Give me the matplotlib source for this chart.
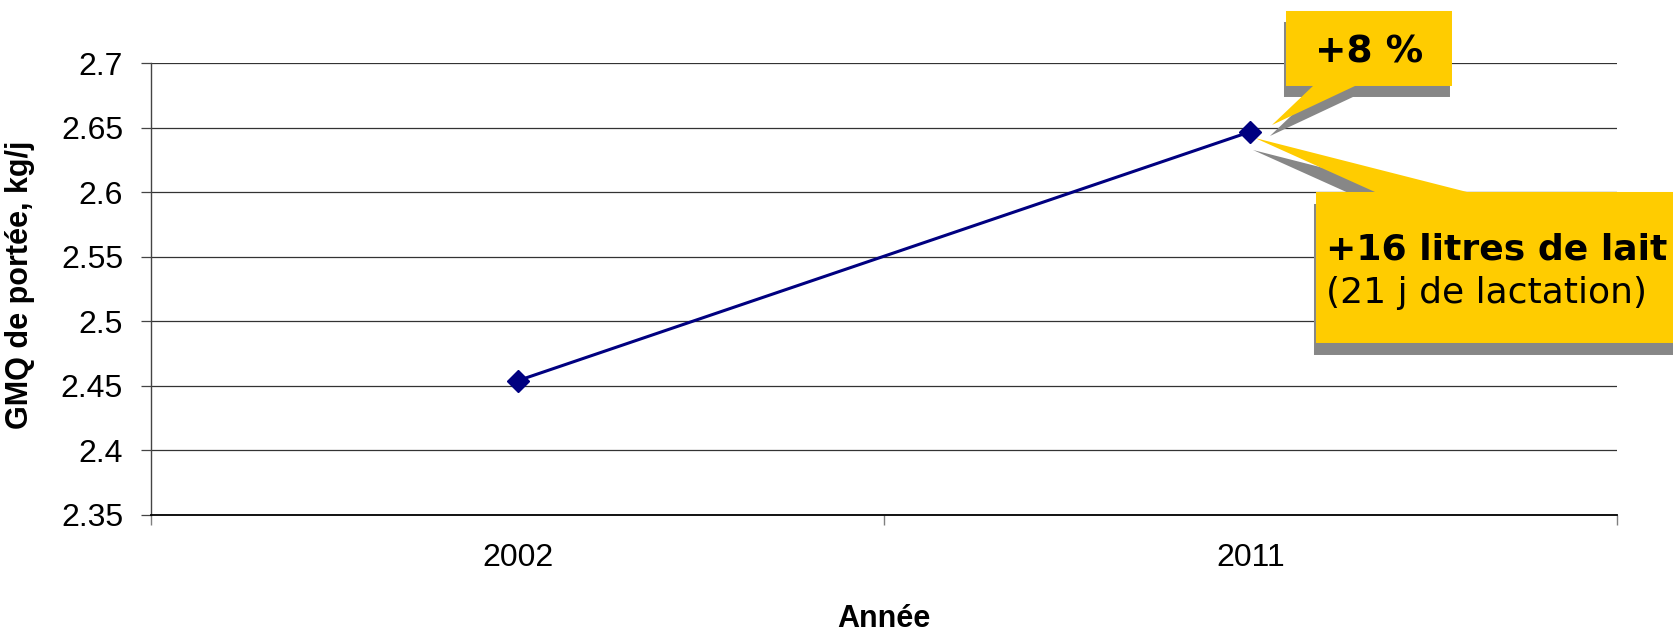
import numpy as np
import matplotlib
matplotlib.use('Agg')
import matplotlib.pyplot as plt
import matplotlib.transforms as mtransforms
from matplotlib.patches import Polygon

plt.rcParams['font.family'] = ['Liberation Sans', 'DejaVu Sans']

# data
annees = ['2002', '2011']
gmq = [2.454, 2.647]
yticks = [2.35, 2.4, 2.45, 2.5, 2.55, 2.6, 2.65, 2.7]
ytick_labels = ['2.35', '2.4', '2.45', '2.5', '2.55', '2.6', '2.65', '2.7']
bulle1_texte = '+8 %'
bulle2_ligne1 = '+16 litres de lait'
bulle2_ligne2 = '(21 j de lactation)'

jaune = '#FFCC00'
ombre = '#878787'

fig = plt.figure(figsize=(16.73, 6.34), dpi=100)
ax = fig.add_axes([0.0903, 0.1877, 0.8762, 0.7125])

x = np.arange(len(annees))
ax.plot(x, gmq, color='#000080', lw=2.2, marker='D', ms=11, zorder=5, clip_on=False)

ax.set_xlim(-0.5, len(annees) - 0.5)
ax.set_ylim(yticks[0], yticks[-1])
ax.set_yticks(yticks)
ax.set_yticklabels(ytick_labels)

# category axis: ticks between categories, labels in the middle
ax.set_xticks(np.arange(len(annees) + 1) - 0.5)
ax.set_xticklabels([])
ax.set_xticks(x, minor=True)
ax.set_xticklabels(annees, minor=True)
ax.tick_params(axis='x', which='minor', length=0, pad=20, labelsize=23)
ax.tick_params(axis='x', which='major', length=7.2, width=1, color='#808080')
ax.tick_params(axis='y', length=7.2, width=0.9, pad=13, labelsize=23, color='#444444')

for s in ['top', 'right']:
    ax.spines[s].set_visible(False)
ax.spines['left'].set_color('#444444')
ax.spines['left'].set_linewidth(1)
ax.spines['bottom'].set_color('black')
ax.spines['bottom'].set_linewidth(1.3)

ax.grid(axis='y', color='#333333', lw=0.9)
ax.set_axisbelow(True)

ax.set_ylabel('GMQ de portée, kg/j', fontsize=22, fontweight='bold')
ax.yaxis.set_label_coords(-0.0795, 0.509)
ax.set_xlabel('Année', fontsize=22, fontweight='bold')
ax.xaxis.set_label_coords(0.5, -0.197)

# callouts: pixel offsets from the 2011 point (y downward)
trans = mtransforms.Affine2D().scale(1, -1) + \
    mtransforms.ScaledTranslation(x[1], gmq[1], ax.transData)


def bulle(verts, off):
    sh = [(vx + off[0], vy + off[1]) for vx, vy in verts]
    ax.add_patch(Polygon(sh, closed=True, fc=ombre, ec='none',
                         transform=trans, clip_on=False, zorder=3))
    ax.add_patch(Polygon(verts, closed=True, fc=jaune, ec='none',
                         transform=trans, clip_on=False, zorder=4))


bulle([(35.5, -120.7), (201.5, -120.7), (201.5, -45.7), (104.5, -45.7),
       (21.5, -6.7), (62.5, -45.7), (35.5, -45.7)], (-2, 11))
ax.text(118.5, -79, bulle1_texte, transform=trans, ha='center', va='center',
        fontsize=27, fontweight='bold', family='DejaVu Sans', zorder=6, clip_on=False)

bulle([(65.5, 60.3), (124.5, 60.3), (4.5, 6.3), (216.5, 60.3), (470, 60.3),
       (470, 211.3), (65.5, 211.3)], (-2, 12))
ax.text(76, 118, bulle2_ligne1, transform=trans, ha='left', va='center',
        fontsize=26, fontweight='bold', family='DejaVu Sans', zorder=6, clip_on=False)
ax.text(76, 161, bulle2_ligne2, transform=trans, ha='left', va='center',
        fontsize=26, family='DejaVu Sans', zorder=6, clip_on=False)

fig.savefig('out.png', dpi=100)
